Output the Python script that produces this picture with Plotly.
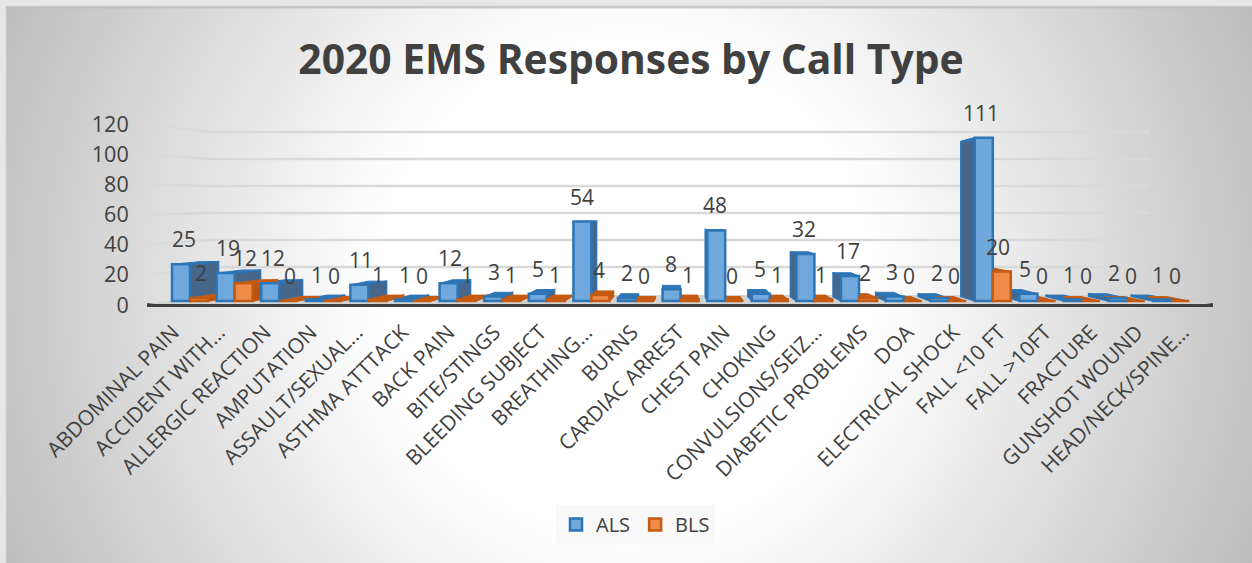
import base64, struct, zlib
import numpy as np
import plotly.graph_objects as go

CATEGORIES = ["ABDOMINAL PAIN", "ACCIDENT WITH…", "ALLERGIC REACTION", "AMPUTATION", "ASSAULT/SEXUAL…",
              "ASTHMA ATTTACK", "BACK PAIN", "BITE/STINGS", "BLEEDING SUBJECT", "BREATHING…", "BURNS",
              "CARDIAC ARREST", "CHEST PAIN", "CHOKING", "CONVULSIONS/SEIZ…", "DIABETIC PROBLEMS", "DOA",
              "ELECTRICAL SHOCK", "FALL <10 FT", "FALL >10FT", "FRACTURE", "GUNSHOT WOUND", "HEAD/NECK/SPINE…"]
ALS = [25, 19, 12, 1, 11, 1, 12, 3, 5, 54, 2, 8, 48, 5, 32, 17, 3, 2, 111, 5, 1, 2, 1]
BLS = [2, 12, 0, 0, 1, 0, 1, 1, 1, 4, 0, 1, 0, 1, 1, 2, 0, 0, 20, 0, 0, 0, 0]
Y_TICKS = [0, 20, 40, 60, 80, 100, 120]

W, H = 1252, 563
L, R, T, B = 147, 1213, 100, 320
STEP = 44.6          # px per category
CX0 = 190            # px of category 0 centre
BAR_SCALE = 1.47     # px per unit for bars
TICK_SCALE = 1.505   # px per unit on the tick wall
GRID_SCALE = 1.35    # px per unit on the back wall
TEXT = "#404040"
FONT = "Open Sans"


def png_uri():
    w, h = W // 2, H // 2
    yy, xx = np.mgrid[0:h, 0:w]
    d = np.hypot(xx * 2 - 625, yy * 2 - 285)
    v = 255 - 66 * np.clip((d - 250) / 430, 0, 1.1) ** 1.05
    img = np.clip(v, 0, 255).astype(np.uint8)
    img[:, :3] = 230
    img[:3, :] = 230
    img[3, 3:] = 188
    raw = b"".join(b"\x00" + img[r].tobytes() for r in range(h))

    def chunk(t, data):
        return struct.pack(">I", len(data)) + t + data + struct.pack(">I", zlib.crc32(t + data) & 0xffffffff)
    png = (b"\x89PNG\r\n\x1a\n" + chunk(b"IHDR", struct.pack(">IIBBBBB", w, h, 8, 0, 0, 0, 0))
           + chunk(b"IDAT", zlib.compress(raw)) + chunk(b"IEND", b""))
    return "data:image/png;base64," + base64.b64encode(png).decode()


xrange_ = [(L - CX0) / STEP, (R - CX0) / STEP]
LX0, LSTEP = 173, 45.9
x2range = [(L - LX0) / LSTEP, (R - LX0) / LSTEP]
yrange = [(305 - B) / TICK_SCALE, (305 - T) / TICK_SCALE]
barrange = [(301 - B) / BAR_SCALE, (301 - T) / BAR_SCALE]
idx = list(range(len(CATEGORIES)))
BAR_W = 18.0


def depth(pos):
    return 2.6 * (11 - pos) if pos < 11 else -2.0 * (pos - 11)


def faces(values, side_sign):
    sx, sy, tx, ty = [], [], [], []
    lift = 4.5 / BAR_SCALE
    for i, v in enumerate(values):
        c = CX0 + STEP * i
        xl, xr = (c - BAR_W, c) if side_sign < 0 else (c, c + BAR_W)
        dx = depth(i + (0 if side_sign < 0 else 0.4))
        back = v * 0.95 + lift
        tx += [(xl - CX0) / STEP, (xr - CX0) / STEP, (xr + dx - CX0) / STEP, (xl + dx - CX0) / STEP, (xl - CX0) / STEP, None]
        ty += [v, v, back, back, v, None]
        edge = xr if dx > 0 else xl
        sx += [(edge - CX0) / STEP, (edge + dx - CX0) / STEP, (edge + dx - CX0) / STEP, (edge - CX0) / STEP, (edge - CX0) / STEP, None]
        sy += [0, lift, back, v, 0, None]
    return sx, sy, tx, ty


fig = go.Figure()

# Floor band
fx = [(L - CX0) / STEP, (210 - CX0) / STEP, (1150 - CX0) / STEP, (R - CX0) / STEP]
fy = [(305 - p) / TICK_SCALE for p in (304, 295, 295, 304)]
fig.add_trace(go.Scatter(x=fx, y=fy, mode="lines", fill="toself", fillcolor="#d2d2d2",
                         line=dict(width=0), showlegend=False, hoverinfo="skip"))

# Gridlines: slanted side wall then back wall
gx, gy = [], []
for t in Y_TICKS[1:]:
    gx += [(L + 1 - CX0) / STEP, (210 - CX0) / STEP, (1150 - CX0) / STEP, None]
    back_val = (11 + GRID_SCALE * t) / TICK_SCALE
    gy += [t, back_val, back_val, None]
fig.add_trace(go.Scatter(x=gx, y=gy, mode="lines", line=dict(color="#d9d9d9", width=2.5),
                         showlegend=False, hoverinfo="skip"))

# Depth faces
for vals, sign, side_c, top_c, edge_c in [(ALS, -1, "#46668a", "#2e75b6", "#2e75b6"),
                                          (BLS, 1, "#b85410", "#c55a11", "#c55a11")]:
    sx, sy, tx, ty = faces(vals, sign)
    fig.add_trace(go.Scatter(x=sx, y=sy, yaxis="y2", mode="lines", fill="toself", fillcolor=side_c,
                             line=dict(color=edge_c, width=1.5), showlegend=False, hoverinfo="skip"))
    fig.add_trace(go.Scatter(x=tx, y=ty, yaxis="y2", mode="lines", fill="toself", fillcolor=top_c,
                             line=dict(color=edge_c, width=1), showlegend=False, hoverinfo="skip"))

# Front faces
fig.add_trace(go.Bar(x=idx, y=ALS, name="ALS", yaxis="y3", marker=dict(color="#6fa8dc", line=dict(color="#2e75b6", width=2.5))))
fig.add_trace(go.Bar(x=idx, y=BLS, name="BLS", yaxis="y3", marker=dict(color="#f08c4a", line=dict(color="#c55a11", width=2.5))))

# Invisible carrier for category labels axis
fig.add_trace(go.Scatter(x=idx, y=[0] * len(idx), xaxis="x2", mode="markers", marker=dict(opacity=0),
                         showlegend=False, hoverinfo="skip"))

annotations = []
for i, (a, b) in enumerate(zip(ALS, BLS)):
    for v, off in ((a, -6), (b, 11)):
        annotations.append(dict(x=i, y=v, xref="x", yref="y3", text=str(v), showarrow=False,
                                xshift=off - 0.33 * i, yshift=25, yanchor="middle",
                                font=dict(family=FONT, size=21, color=TEXT)))

fig.update_layout(
    width=W, height=H, autosize=False,
    margin=dict(l=L, r=W - R, t=T, b=H - B),
    paper_bgcolor="#ffffff", plot_bgcolor="rgba(0,0,0,0)",
    barmode="group", bargap=1 - 2 * BAR_W / STEP, bargroupgap=0,
    title=dict(text="<b>2020 EMS Responses by Call Type</b>", x=631 / W, xanchor="center",
               y=1 - 60 / H, yanchor="middle", font=dict(family=FONT, size=40.8, color=TEXT)),
    images=[dict(source=png_uri(), xref="paper", yref="paper", x=-L / (R - L), y=1 + T / (B - T),
                 sizex=W / (R - L), sizey=H / (B - T), sizing="stretch", layer="below",
                 xanchor="left", yanchor="top")],
    xaxis=dict(range=xrange_, showgrid=False, zeroline=False, showticklabels=False, ticks="", fixedrange=True),
    xaxis2=dict(range=x2range, overlaying="x", anchor="y", side="bottom", showgrid=False, zeroline=False,
                tickmode="array", tickvals=idx, ticktext=CATEGORIES, tickangle=-45, ticks="",
                ticklabelstandoff=-5, tickfont=dict(family=FONT, size=21, color=TEXT)),
    yaxis=dict(range=yrange, tickmode="array", tickvals=Y_TICKS, showgrid=False, zeroline=True,
               zerolinecolor=TEXT, zerolinewidth=4, showline=False, ticks="outside", ticklen=13,
               tickcolor="rgba(0,0,0,0)", tickfont=dict(family=FONT, size=21.5, color=TEXT)),
    yaxis2=dict(range=barrange, overlaying="y", visible=False),
    yaxis3=dict(range=barrange, overlaying="y", visible=False),
    legend=dict(orientation="h", xref="container", yref="container", x=556 / W, y=1 - 505 / H,
                xanchor="left", yanchor="top", bgcolor="#f8f8f8", borderwidth=0,
                font=dict(family=FONT, size=20, color=TEXT), itemwidth=30, traceorder="normal"),
    annotations=annotations,
)

fig.write_html("out.html", config=dict(displayModeBar=False),
               post_script="document.body.style.margin='0';document.documentElement.style.overflow='hidden';")
